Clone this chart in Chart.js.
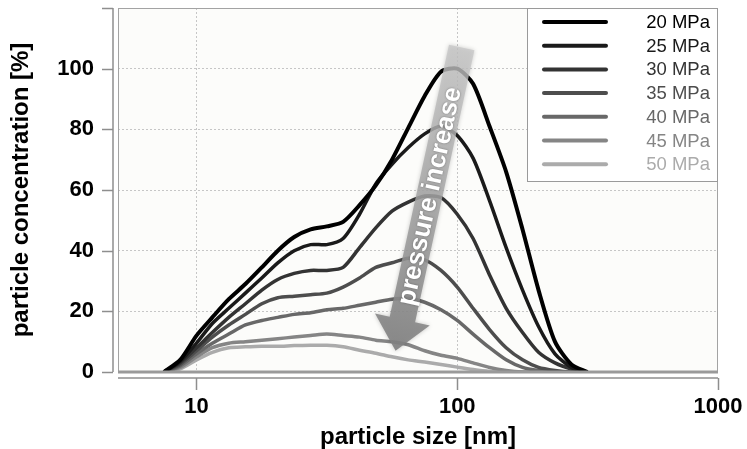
<!DOCTYPE html>
<html lang="en">
<head>
<meta charset="UTF-8">
<title>Particle size distribution vs. pressure</title>
<script src="https://cdn.jsdelivr.net/npm/chart.js"></script>
<style>
  html, body { margin: 0; padding: 0; background: #fff; }
  #wrap { width: 747px; height: 449px; }
</style>
</head>
<body>
<div id="wrap"><canvas id="psd"></canvas></div>
<script>
// size classes [nm], 16 per decade
const sizes = [7.5, 8.66, 10, 11.5, 13.3, 15.4, 17.8, 20.5, 23.7, 27.4, 31.6, 36.5, 42.2, 48.7,
  56.2, 64.9, 75, 86.6, 100, 115, 133, 154, 178, 205, 237, 274, 316];

const pressures = ['20 MPa', '25 MPa', '30 MPa', '35 MPa', '40 MPa', '45 MPa', '50 MPa'];

// particle concentration [%] per pressure
const conc20 = [0, 4, 12, 18, 24, 29, 34.5, 40, 44.5, 47, 48, 49.5, 55, 61.5, 70, 80.5, 91, 99, 100, 95, 81, 66, 47, 27, 10, 2.5, 0];
const conc25 = [0, 3.5, 9.5, 16, 21, 26, 31, 36, 40, 42, 42, 44, 52, 62, 68.5, 74, 78.5, 81, 78, 70.5, 56.5, 41, 27, 15, 6, 1.5, 0];
const conc30 = [0, 3, 8, 13, 18, 22.5, 27, 30.5, 32.5, 33.5, 33.5, 34.5, 41, 47.5, 53, 56, 58, 57.5, 52, 44, 32, 21, 13, 6.5, 3, 1, 0];
const conc35 = [0, 2.5, 7, 11.5, 15.5, 19, 22.5, 24.5, 25, 25.5, 26, 28, 31, 34.5, 36, 37.5, 37, 33.5, 28, 21, 14, 8, 4, 1.5, 0.5, 0, 0];
const conc40 = [0, 2, 6, 9.5, 12.5, 15.5, 17, 18, 19, 19.5, 20.5, 21, 22, 23, 24, 24.3, 23, 20.5, 17, 12.5, 8, 4, 1.5, 0.5, 0, 0, 0];
const conc45 = [0, 1.5, 5, 8, 9.5, 10, 10.5, 11, 11.5, 12, 12.5, 12, 11.5, 10.5, 10, 9, 7, 5.5, 4.5, 3, 1.5, 0.5, 0, 0, 0, 0, 0];
const conc50 = [0, 1, 4, 6.5, 8, 8.3, 8.5, 8.5, 8.7, 8.8, 8.8, 8.3, 7.2, 6.2, 5, 4, 3.3, 2.5, 1.6, 0.8, 0.2, 0, 0, 0, 0, 0, 0];

const xTicks = [10, 100, 1000];
const grays = ['#000000', '#1a1a1a', '#333333', '#4d4d4d', '#686868', '#858585', '#ababab'];

const FONT = "'Liberation Sans', Arial, sans-serif";

const series = [conc20, conc25, conc30, conc35, conc40, conc45, conc50];
const datasets = series.map((vals, i) => ({
  label: pressures[i],
  data: vals.map((v, k) => ({ x: sizes[k], y: v })),
  borderColor: grays[i],
  borderWidth: i === 0 ? 4 : 3.5,
  pointRadius: 0,
  tension: 0.25,
  fill: false
}));

// drop the label overhang padding so the plot box keeps its fixed size
function noOverhang(s) {
  s.paddingLeft = 0;
  s.paddingRight = 0;
  s.paddingTop = 0;
  s.paddingBottom = 0;
}

// frame, offset axes, trend arrow and legend
const decorations = {
  id: 'decorations',
  beforeDraw(chart) {
    const { ctx, chartArea: a } = chart;
    ctx.save();
    ctx.fillStyle = '#fcfcfa';
    ctx.fillRect(a.left, a.top, a.right - a.left, a.bottom - a.top);
    ctx.restore();
  },
  afterDatasetsDraw(chart) {
    const { ctx, chartArea: a, scales } = chart;
    const xs = scales.x, ys = scales.y;
    ctx.save();

    // trend arrow
    const tail = { x: xs.getPixelForValue(104), y: ys.getPixelForValue(107) };
    const tip = { x: xs.getPixelForValue(58), y: ys.getPixelForValue(7) };
    const ang = Math.atan2(tip.y - tail.y, tip.x - tail.x);
    const len = Math.hypot(tip.x - tail.x, tip.y - tail.y);
    const shaftW = 26, headW = 56, headL = 32;
    ctx.save();
    ctx.translate(tail.x, tail.y);
    ctx.rotate(ang);
    const g = ctx.createLinearGradient(0, 0, len, 0);
    g.addColorStop(0, 'rgba(200,200,200,0.78)');
    g.addColorStop(1, 'rgba(128,128,128,0.9)');
    ctx.fillStyle = g;
    ctx.shadowColor = 'rgba(0,0,0,0.25)';
    ctx.shadowBlur = 4;
    ctx.beginPath();
    ctx.moveTo(0, -shaftW / 2);
    ctx.lineTo(len - headL, -shaftW / 2);
    ctx.lineTo(len - headL, -headW / 2);
    ctx.lineTo(len, 0);
    ctx.lineTo(len - headL, headW / 2);
    ctx.lineTo(len - headL, shaftW / 2);
    ctx.lineTo(0, shaftW / 2);
    ctx.closePath();
    ctx.fill();
    ctx.restore();

    // arrow label, reading upwards along the shaft
    ctx.save();
    const mid = 0.49;
    ctx.translate(tail.x + (tip.x - tail.x) * mid, tail.y + (tip.y - tail.y) * mid);
    ctx.rotate(ang + Math.PI);
    ctx.font = 'bold 26px ' + FONT;
    ctx.textAlign = 'center';
    ctx.textBaseline = 'middle';
    ctx.shadowColor = 'rgba(60,60,60,0.6)';
    ctx.shadowBlur = 2;
    ctx.fillStyle = '#ffffff';
    ctx.fillText('pressure increase', 0, 1);
    ctx.restore();

    // plot frame
    ctx.strokeStyle = '#a3a3a3';
    ctx.lineWidth = 1;
    ctx.strokeRect(a.left + 0.5, a.top + 0.5, a.right - a.left - 1, a.bottom - a.top);
    ctx.strokeStyle = '#9a9a9a';
    ctx.lineWidth = 3;
    ctx.beginPath();
    ctx.moveTo(a.left, a.bottom);
    ctx.lineTo(a.right, a.bottom);
    ctx.stroke();

    // detached y axis with outward ticks
    ctx.strokeStyle = '#8e8e8e';
    ctx.lineWidth = 1.5;
    const yx = a.left - 5;
    ctx.beginPath();
    ctx.moveTo(yx, ys.getPixelForValue(ys.max));
    ctx.lineTo(yx, ys.getPixelForValue(0));
    ys.ticks.forEach(t => {
      const py = Math.round(ys.getPixelForValue(t.value)) + 0.5;
      ctx.moveTo(yx, py);
      ctx.lineTo(yx - 11, py);
    });
    ctx.stroke();

    // detached x axis with downward ticks
    const xy = a.bottom + 6;
    ctx.beginPath();
    ctx.moveTo(a.left, xy);
    ctx.lineTo(a.right, xy);
    xs.ticks.forEach(t => {
      const px = Math.round(xs.getPixelForValue(t.value)) + 0.5;
      ctx.moveTo(px, xy);
      ctx.lineTo(px, xy + 12);
    });
    ctx.stroke();

    // legend box in the upper right corner
    const bw = 191, bh = 173;
    const bx = a.right - bw, by = a.top;
    ctx.fillStyle = '#ffffff';
    ctx.fillRect(bx, by, bw, bh);
    ctx.strokeStyle = '#9a9a9a';
    ctx.lineWidth = 1;
    ctx.strokeRect(bx + 0.5, by + 0.5, bw - 1, bh);
    ctx.font = '18.5px ' + FONT;
    ctx.textAlign = 'right';
    ctx.textBaseline = 'middle';
    chart.data.datasets.forEach((ds, i) => {
      const ry = by + 14 + i * 23.7;
      ctx.strokeStyle = ds.borderColor;
      ctx.lineWidth = 4;
      ctx.lineCap = 'round';
      ctx.beginPath();
      ctx.moveTo(bx + 17, ry);
      ctx.lineTo(bx + 79, ry);
      ctx.stroke();
      ctx.fillStyle = ds.borderColor;
      ctx.fillText(ds.label, bx + bw - 8, ry + 1);
    });

    ctx.restore();
  }
};

const gridColor = c => (c.tick && (c.tick.value === 0 || c.tick.value === 120 || c.tick.value === 1000))
  ? 'rgba(0,0,0,0)' : '#c6c6c6';

new Chart(document.getElementById('psd'), {
  type: 'line',
  data: { datasets },
  options: {
    responsive: true,
    maintainAspectRatio: false,
    animation: false,
    layout: { padding: { top: 8, right: 29, left: 0, bottom: 0 } },
    plugins: { legend: { display: false }, tooltip: { enabled: false } },
    scales: {
      x: {
        type: 'logarithmic',
        min: 5,
        max: 1000,
        afterBuildTicks: s => { s.ticks = xTicks.map(v => ({ value: v })); },
        afterFit: s => { s.height = 77; noOverhang(s); },
        ticks: {
          autoSkip: false,
          maxRotation: 0,
          padding: 22,
          color: '#000',
          font: { family: FONT, size: 22, weight: 'bold' },
          callback: v => String(v)
        },
        grid: { color: gridColor, lineWidth: 1, drawTicks: false },
        border: { display: false, dash: [2, 2] },
        title: {
          display: true,
          text: 'particle size [nm]',
          color: '#000',
          font: { family: FONT, size: 24, weight: 'bold' },
          padding: { top: 0, bottom: -3 }
        }
      },
      y: {
        min: 0,
        max: 120,
        afterFit: s => { s.width = 118; noOverhang(s); },
        ticks: {
          stepSize: 20,
          padding: 24,
          color: '#000',
          font: { family: FONT, size: 22, weight: 'bold' },
          callback: v => (v === 120 ? '' : v)
        },
        grid: { color: gridColor, lineWidth: 1, drawTicks: false },
        border: { display: false, dash: [2, 2] },
        title: {
          display: true,
          text: 'particle concentration [%]',
          color: '#000',
          font: { family: FONT, size: 24, weight: 'bold' },
          padding: { top: 7, bottom: 0 }
        }
      }
    }
  },
  plugins: [decorations]
});
</script>
</body>
</html>
